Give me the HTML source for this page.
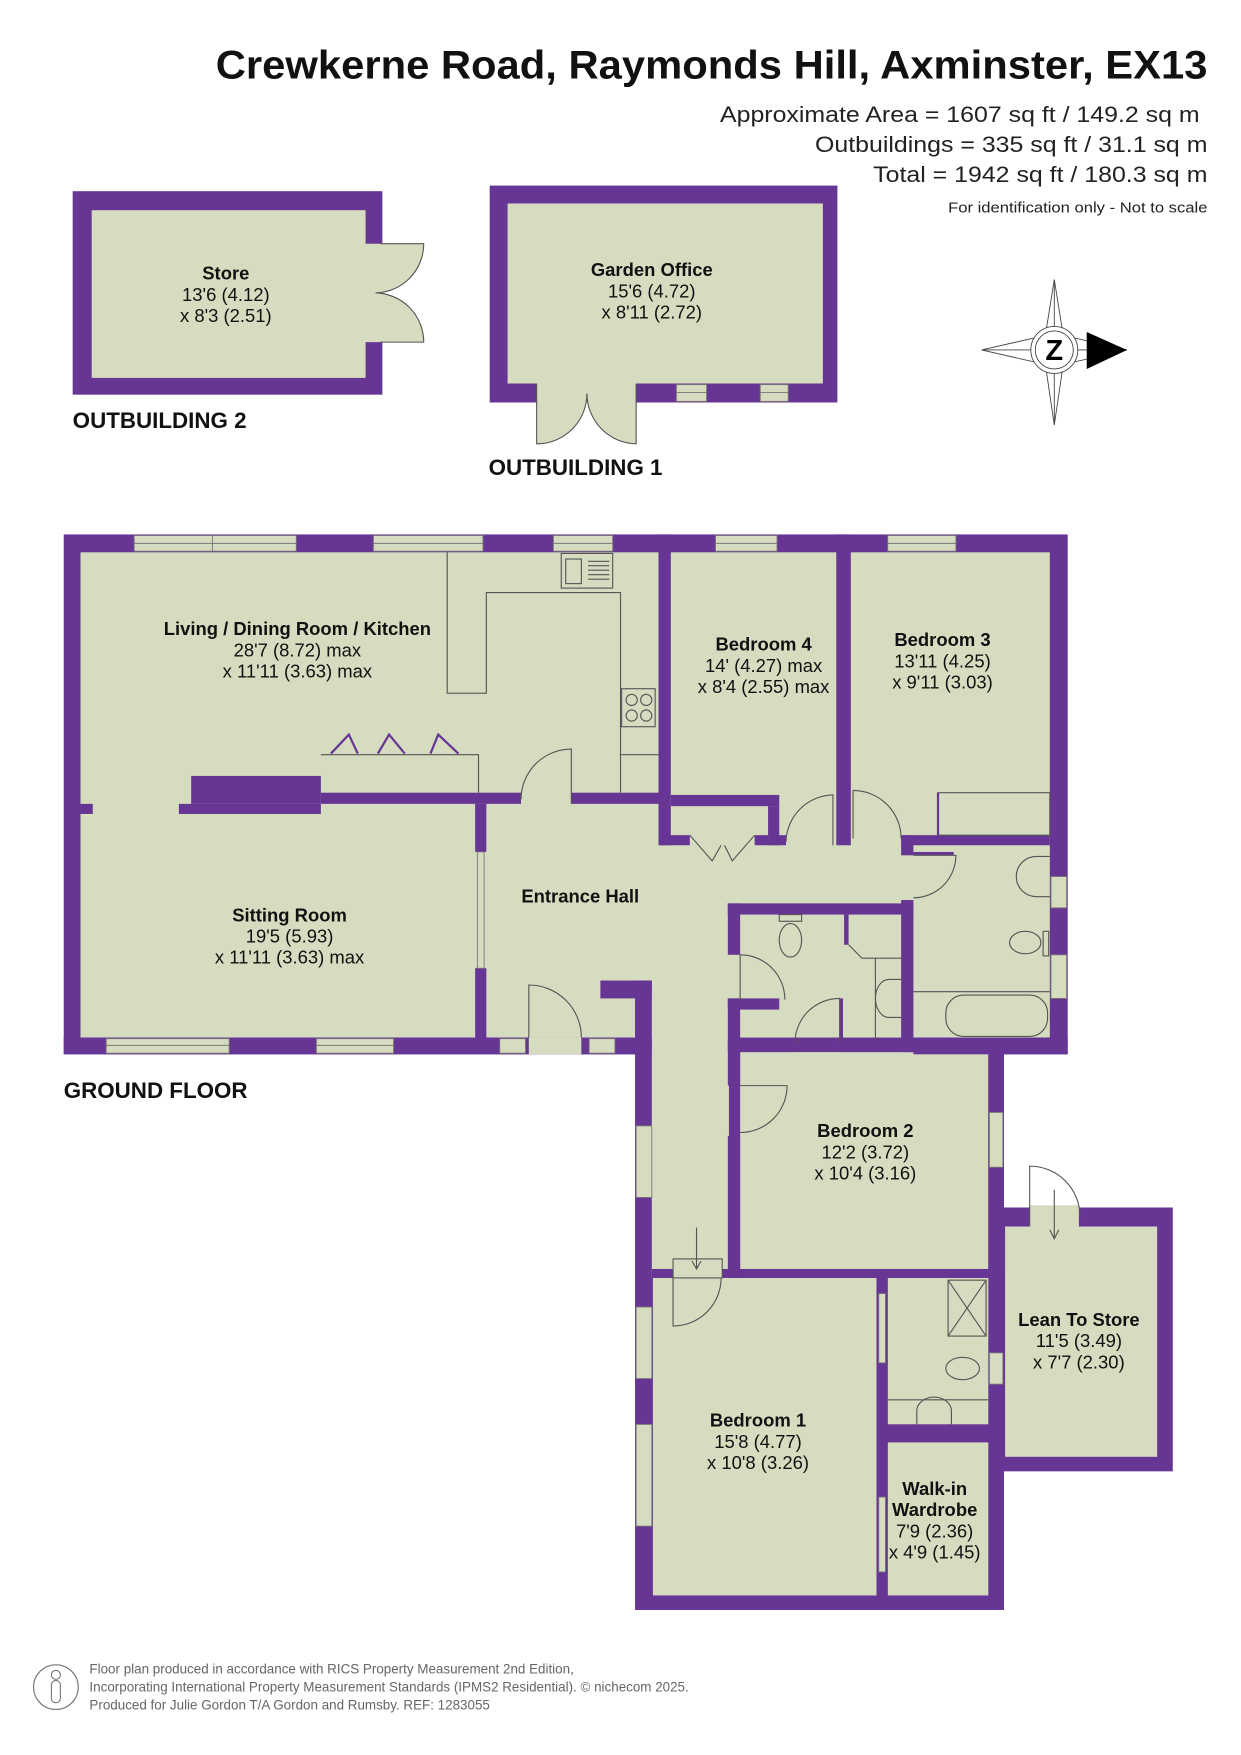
<!DOCTYPE html>
<html><head><meta charset="utf-8"><style>
html,body{margin:0;padding:0;background:#fff}
svg{display:block}
text{font-family:"Liberation Sans",Arial,sans-serif}
</style></head><body>
<svg width="1241" height="1755" viewBox="0 0 1110 1569.7" preserveAspectRatio="none" xmlns="http://www.w3.org/2000/svg">
<rect width="1110" height="1570" fill="#fff"/>
<text x="1080" y="70" text-anchor="end" font-size="36" font-weight="bold" fill="#111" textLength="887" lengthAdjust="spacingAndGlyphs">Crewkerne Road, Raymonds Hill, Axminster, EX13</text>
<g font-size="20" fill="#222" text-anchor="end">
<text x="1073" y="109" textLength="429" lengthAdjust="spacingAndGlyphs">Approximate Area = 1607 sq ft / 149.2 sq m</text>
<text x="1080" y="136" textLength="351" lengthAdjust="spacingAndGlyphs">Outbuildings = 335 sq ft / 31.1 sq m</text>
<text x="1080" y="163" textLength="299" lengthAdjust="spacingAndGlyphs">Total = 1942 sq ft / 180.3 sq m</text>
</g>
<text x="1080" y="190" text-anchor="end" font-size="13.5" fill="#222" textLength="232" lengthAdjust="spacingAndGlyphs">For identification only - Not to scale</text>

<g fill="#673594">
<rect x="65" y="171" width="277" height="182"/>
<rect x="438" y="166" width="311" height="194"/>
<rect x="57" y="478" width="898" height="465"/>
<rect x="568" y="877" width="330" height="563"/>
<rect x="897" y="1080" width="152" height="236"/>
</g>

<g fill="#d6dcbf">
<rect x="82" y="188" width="245" height="150"/>
<rect x="320" y="218" width="22" height="88"/>
<path d="M340,218 H379 A44,44 0 0 1 336,262 A44,44 0 0 1 379,306 H340 Z"/>
<rect x="454" y="182" width="282" height="161"/>
<rect x="480" y="340" width="89" height="20"/>
<path d="M480,360 V397 A45,45 0 0 0 525,352 Z"/>
<path d="M569,360 V397 A45,45 0 0 1 525,352 Z"/>
<rect x="72" y="494" width="867" height="434"/>
<rect x="583" y="880" width="69" height="263"/>
<rect x="662" y="941" width="222" height="194"/>
<rect x="584" y="1143" width="200" height="284"/>
<rect x="794" y="1143" width="90" height="131"/>
<rect x="794" y="1290" width="90" height="137"/>
<rect x="899" y="1097" width="136" height="206"/>
<rect x="921" y="1078" width="44" height="20"/>
</g>
<g fill="none" stroke="#555" stroke-width="1">
<path d="M340,218 H379 A44,44 0 0 1 336,262"/>
<path d="M340,306 H379 A44,44 0 0 0 336,262"/>
<path d="M480,343 V397 A45,45 0 0 0 525,352"/>
<path d="M569,343 V397 A45,45 0 0 1 525,352"/>
</g>

<g fill="#673594">
<rect x="171" y="694" width="116" height="25"/>
<rect x="160" y="719" width="127" height="9"/>
<rect x="287" y="709" width="179" height="10"/>
<rect x="72" y="719" width="11" height="9"/>
<rect x="511" y="709" width="78" height="10"/>
<rect x="589" y="478" width="11" height="278"/>
<rect x="600" y="711" width="97" height="10"/>
<rect x="687" y="721" width="10" height="35"/>
<rect x="590" y="747" width="27" height="9"/>
<rect x="675" y="747" width="28" height="9"/>
<rect x="748" y="478" width="13" height="278"/>
<rect x="806" y="747" width="133" height="9"/>
<rect x="806" y="747" width="11" height="18"/>
<rect x="817" y="762" width="36" height="3"/>
<rect x="806" y="805" width="11" height="136"/>
<rect x="651" y="808" width="166" height="10"/>
<rect x="651" y="808" width="11" height="46"/>
<rect x="651" y="893" width="11" height="78"/>
<rect x="651" y="1016" width="11" height="127"/>
<rect x="651" y="893" width="46" height="10"/>
<rect x="651" y="930" width="60" height="11"/>
<rect x="751" y="930" width="66" height="11"/>
<rect x="751" y="893" width="3" height="40"/>
<rect x="755" y="818" width="4" height="27"/>
<rect x="817" y="928" width="138" height="15"/>
<rect x="537" y="877" width="46" height="16"/>
<rect x="568" y="877" width="15" height="66"/>
<rect x="425" y="719" width="10" height="43"/>
<rect x="425" y="866" width="10" height="62"/>
<rect x="57" y="928" width="511" height="15"/>
<rect x="583" y="1135" width="19" height="8"/>
<rect x="646" y="1135" width="252" height="8"/>
<rect x="784" y="1143" width="10" height="284"/>
<rect x="794" y="1274" width="90" height="16"/>
<rect x="884" y="941" width="14" height="202"/>
</g>

<g fill="#d6dcbf" stroke="#777" stroke-width="0.8">
<rect x="120" y="479" width="70" height="14"/><rect x="190" y="479" width="75" height="14"/>
<rect x="334" y="479" width="98" height="14"/><rect x="495" y="479" width="53" height="14"/>
<rect x="640" y="479" width="55" height="14"/><rect x="794" y="479" width="61" height="14"/>
<rect x="95" y="929" width="110" height="13"/><rect x="283" y="929" width="69" height="13"/>
<rect x="447" y="929" width="23" height="13"/><rect x="527" y="929" width="23" height="13"/>
<rect x="569" y="1007" width="14" height="64"/><rect x="569" y="1169" width="14" height="64"/>
<rect x="569" y="1274" width="14" height="91"/>
<rect x="427" y="762" width="6" height="104"/>
<rect x="940" y="784" width="14" height="28"/><rect x="940" y="854" width="14" height="39"/>
<rect x="885" y="995" width="12" height="49"/><rect x="885" y="1210" width="12" height="28"/>
<rect x="605" y="344" width="27" height="15"/><rect x="680" y="344" width="25" height="15"/>
<rect x="786" y="1157" width="6" height="62"/><rect x="786" y="1339" width="6" height="67"/>
</g>
<g stroke="#777" stroke-width="0.8">
<line x1="120" y1="486" x2="265" y2="486"/><line x1="334" y1="486" x2="432" y2="486"/>
<line x1="495" y1="486" x2="548" y2="486"/><line x1="640" y1="486" x2="695" y2="486"/>
<line x1="794" y1="486" x2="855" y2="486"/><line x1="95" y1="935" x2="205" y2="935"/>
<line x1="283" y1="935" x2="352" y2="935"/><line x1="605" y1="351" x2="632" y2="351"/>
<line x1="680" y1="351" x2="705" y2="351"/>
</g>
<rect x="473" y="928" width="47" height="15" fill="#d6dcbf"/>

<g fill="none" stroke="#555" stroke-width="1">
<path d="M511,719 V670 A45,45 0 0 0 466,715"/>
<path d="M745,756 V711 A43,43 0 0 0 703,753"/>
<path d="M763,750 V707 A43,43 0 0 1 806,750"/>
<path d="M817,765 H855 A38,38 0 0 1 817,803"/>
<path d="M662,894 V854 A40,40 0 0 1 702,894"/>
<path d="M751,933 V893 A40,40 0 0 0 711,933"/>
<path d="M662,971 H704 A42,42 0 0 1 662,1013"/>
<path d="M602,1143 V1186 A43,43 0 0 0 645,1143"/>
<rect x="602" y="1126" width="44" height="17"/>
<path d="M623,1098 V1135 M619,1128 L623,1135 L627,1128"/>
<path d="M921,1097 V1043 A45,45 0 0 1 966,1088"/>
<path d="M943,1064 V1108 M939,1100 L943,1108 L947,1100"/>
<path d="M473,928 V881 A47,47 0 0 1 520,928"/>
<path d="M400,494 V620 H435 V530 H555 V711"/>
<path d="M287,675 H428 V709"/>
<path d="M555,675 H589"/>
<rect x="556" y="616" width="30" height="34"/>
<circle cx="565" cy="626" r="5"/><circle cx="578" cy="626" r="5"/>
<circle cx="565" cy="640" r="5"/><circle cx="578" cy="640" r="5"/>
<rect x="502" y="495" width="46" height="31"/><rect x="506" y="500" width="14" height="22"/>
<path d="M526,502 H545 M526,506 H545 M526,510 H545 M526,514 H545 M526,518 H545"/>
<path d="M817,887 H939"/>
<rect x="846" y="890" width="91" height="37" rx="16"/>
<path d="M939,766 H927 A18,18 0 0 0 927,802 H939"/>
<ellipse cx="917" cy="843" rx="14" ry="10"/>
<rect x="933" y="833" width="5" height="22"/>
<ellipse cx="707" cy="841" rx="10" ry="15"/>
<rect x="697" y="818" width="20" height="6"/>
<path d="M806,876 H795 A12,17 0 0 0 795,910 H806"/>
<path d="M783,857 V930"/>
<path d="M759,845 L771,857 H806"/>
<rect x="848" y="1145" width="34" height="50"/>
<path d="M848,1145 L882,1195 M882,1145 L848,1195"/>
<ellipse cx="861" cy="1224" rx="15" ry="10"/>
<path d="M794,1252 H884"/>
<path d="M820,1274 V1262 A15,12 0 0 1 851,1262 V1274"/>
<rect x="839" y="709" width="100" height="38"/>
<path d="M617,747 L637,770 L645,756 M675,747 L655,770 L648,756"/>
</g>
<g fill="none" stroke="#673594" stroke-width="2">
<path d="M296,674 L312,657 L320,674"/>
<path d="M338,674 L348,657 L362,674"/>
<path d="M385,674 L392,657 L410,674"/>
<path d="M839,709 V747"/>
</g>

<g fill="none" stroke="#444" stroke-width="0.8">
<path d="M943,250 L951,300 L1008,313 L951,326 L943,380 L935,326 L878,313 L935,300 Z"/>
<path d="M943,250 V380 M878,313 H1008"/>
<circle cx="943" cy="313" r="21" fill="#fff"/>
<circle cx="943" cy="313" r="17"/>
</g>
<path d="M972,297 L1008,313 L972,330 Z" fill="#000"/>
<text x="943" y="322" text-anchor="middle" font-size="26" font-weight="bold" fill="#000">Z</text>

<g font-size="16.5" fill="#111" text-anchor="middle">
<text x="202" y="250" font-weight="bold">Store</text><text x="202" y="269">13'6 (4.12)</text><text x="202" y="288">x 8'3 (2.51)</text>
<text x="583" y="247" font-weight="bold">Garden Office</text><text x="583" y="266">15'6 (4.72)</text><text x="583" y="285">x 8'11 (2.72)</text>
<text x="266" y="568" font-weight="bold">Living / Dining Room / Kitchen</text><text x="266" y="587">28'7 (8.72) max</text><text x="266" y="606">x 11'11 (3.63) max</text>
<text x="683" y="582" font-weight="bold">Bedroom 4</text><text x="683" y="601">14' (4.27) max</text><text x="683" y="620">x 8'4 (2.55) max</text>
<text x="843" y="578" font-weight="bold">Bedroom 3</text><text x="843" y="597">13'11 (4.25)</text><text x="843" y="616">x 9'11 (3.03)</text>
<text x="519" y="807" font-weight="bold">Entrance Hall</text>
<text x="259" y="824" font-weight="bold">Sitting Room</text><text x="259" y="843">19'5 (5.93)</text><text x="259" y="862">x 11'11 (3.63) max</text>
<text x="774" y="1017" font-weight="bold">Bedroom 2</text><text x="774" y="1036">12'2 (3.72)</text><text x="774" y="1055">x 10'4 (3.16)</text>
<text x="965" y="1186" font-weight="bold">Lean To Store</text><text x="965" y="1205">11'5 (3.49)</text><text x="965" y="1224">x 7'7 (2.30)</text>
<text x="678" y="1276" font-weight="bold">Bedroom 1</text><text x="678" y="1295">15'8 (4.77)</text><text x="678" y="1314">x 10'8 (3.26)</text>
<text x="836" y="1337" font-weight="bold">Walk-in</text><text x="836" y="1356" font-weight="bold">Wardrobe</text><text x="836" y="1375">7'9 (2.36)</text><text x="836" y="1394">x 4'9 (1.45)</text>
</g>
<g font-size="20" font-weight="bold" fill="#111">
<text x="65" y="383">OUTBUILDING 2</text>
<text x="437" y="425">OUTBUILDING 1</text>
<text x="57" y="982">GROUND FLOOR</text>
</g>

<g fill="none" stroke="#777" stroke-width="1">
<circle cx="50" cy="1509" r="20"/>
<circle cx="50" cy="1498" r="4"/>
<rect x="46" y="1503" width="8" height="20" rx="4"/>
</g>
<g font-size="12" fill="#666">
<text x="80" y="1497">Floor plan produced in accordance with RICS Property Measurement 2nd Edition,</text>
<text x="80" y="1513">Incorporating International Property Measurement Standards (IPMS2 Residential).   © nichecom 2025.</text>
<text x="80" y="1529">Produced for Julie Gordon T/A Gordon and Rumsby.   REF: 1283055</text>
</g>
</svg>
</body></html>
